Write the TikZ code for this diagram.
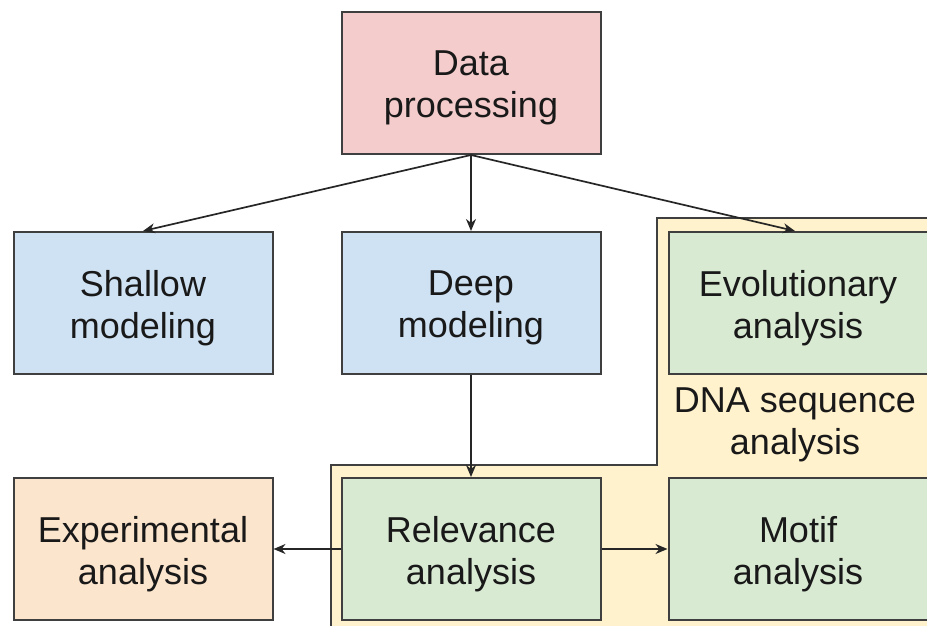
\documentclass[tikz,border=0pt]{standalone}
\usepackage{fontspec}
\setmainfont{Liberation Sans}
\usetikzlibrary{arrows.meta}
\definecolor{pinkfill}{HTML}{F4CCCC}
\definecolor{bluefill}{HTML}{CFE2F3}
\definecolor{greenfill}{HTML}{D9EAD3}
\definecolor{orangefill}{HTML}{FCE5CD}
\definecolor{yellowfill}{HTML}{FFF2CC}
\definecolor{edge}{HTML}{3F3F3F}
\tikzset{
  boxtext/.style={align=center, inner sep=0pt,
    font=\fontsize{36}{42}\selectfont, text=black!90},
  box/.style={draw=edge, line width=2pt, rectangle, minimum width=259pt,
    minimum height=142pt, inner sep=0pt,
    label={[boxtext, yshift=-5pt]center:{#1}}},
  link/.style={draw=black!85, line width=1.7pt,
    -{Stealth[length=12pt,width=10pt]}},
}
\begin{document}
\begin{tikzpicture}[x=1pt,y=-1pt]
  \useasboundingbox (0,0) rectangle (927,626);
  \clip (0,0) rectangle (927,626);
  % highlighted region for the DNA sequence analysis group
  \draw[draw=edge, line width=2pt, fill=yellowfill]
    (657,218) -- (945,218) -- (945,645) -- (331,645) -- (331,465)
    -- (657,465) -- cycle;
  \node[box={Data\\processing}, fill=pinkfill]     (data)  at (471,83)  {};
  \node[box={Shallow\\modeling}, fill=bluefill]    (shal)  at (143,303) {};
  \node[box={Deep\\modeling}, fill=bluefill]       (deep)  at (471,303) {};
  \node[box={Evolutionary\\analysis}, fill=greenfill] (evol) at (798,303) {};
  \node[box={Experimental\\analysis}, fill=orangefill] (expe) at (143,549) {};
  \node[box={Relevance\\analysis}, fill=greenfill]  (relv)  at (471,549) {};
  \node[box={Motif\\analysis}, fill=greenfill]      (motif) at (798,549) {};
  \node[boxtext] (dna) at (795,425) {DNA sequence\\analysis};
  \draw[link] (data.south) -- (shal.north);
  \draw[link] (data.south) -- (deep.north);
  \draw[link] (data.south) -- ([xshift=-3pt]evol.north);
  \draw[link] (deep.south) -- (relv.north);
  \draw[link] (relv.west) -- (expe.east);
  \draw[link] (relv.east) -- (motif.west);
\end{tikzpicture}
\end{document}
